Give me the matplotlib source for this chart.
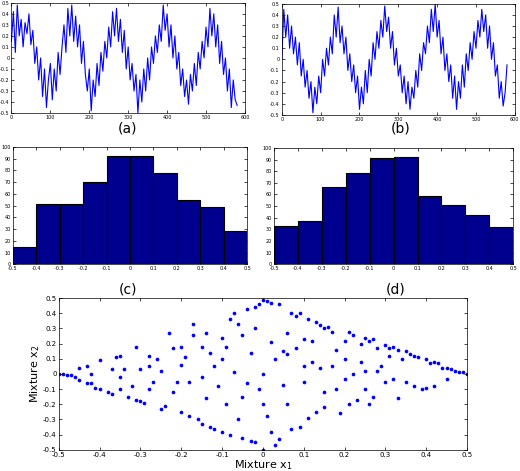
import numpy as np
import matplotlib
matplotlib.use("Agg")
import matplotlib.pyplot as plt

sig_a = [0.15,0.42,0.05,0.48,0.2,0.35,0.1,0.32,0.22,0.4,0.12,0.25,-0.05,
 0.1,-0.2,0.0,-0.35,-0.1,-0.45,-0.2,-0.05,-0.38,-0.1,-0.3,0.05,-0.15,
 0.1,0.3,0.05,0.45,0.2,0.48,0.15,0.38,0.1,0.3,-0.05,0.15,-0.15,
 -0.3,-0.1,-0.48,-0.2,-0.35,-0.05,-0.25,0.05,-0.12,0.15,0.0,0.28,0.1,
 0.42,0.2,0.45,0.15,0.35,0.05,0.25,-0.1,0.1,-0.2,-0.05,-0.3,-0.15,
 -0.5,-0.2,-0.4,-0.1,-0.3,0.0,-0.2,0.1,-0.05,0.2,0.05,0.3,0.15,
 0.48,0.25,0.4,0.1,0.3,0.0,0.2,-0.1,0.05,-0.25,-0.1,-0.35,-0.2,
 -0.42,-0.15,-0.3,-0.05,-0.25,0.05,-0.1,0.15,0.0,0.28,0.1,0.45,0.2,
 0.4,0.1,0.3,-0.05,0.15,-0.15,0.0,-0.3,-0.1,-0.45,-0.2,-0.38,-0.43]
sig_b = [0.0,0.45,0.2,0.4,0.1,0.3,0.05,0.2,-0.05,0.15,-0.15,0.0,-0.25,
 -0.1,-0.35,-0.2,-0.48,-0.25,-0.4,-0.15,-0.3,0.0,-0.15,0.1,-0.05,0.2,
 0.05,0.4,0.2,0.47,0.15,0.3,0.05,0.2,-0.1,0.05,-0.2,-0.05,-0.3,
 -0.15,-0.45,-0.25,-0.4,-0.1,-0.3,0.0,-0.15,0.15,0.0,0.25,0.1,0.35,
 0.2,0.48,0.25,0.38,0.1,0.25,-0.05,0.1,-0.15,-0.05,-0.3,-0.15,-0.4,
 -0.2,-0.45,-0.25,-0.35,-0.1,-0.25,0.05,-0.1,0.15,0.05,0.3,0.15,0.45,
 0.25,0.5,0.2,0.35,0.05,0.2,-0.1,0.05,-0.2,-0.05,-0.35,-0.15,-0.45,
 -0.2,-0.35,-0.05,-0.25,0.05,-0.1,0.15,0.0,0.25,0.1,0.35,0.2,0.45,
 0.25,0.4,0.1,0.3,0.0,0.15,-0.15,-0.05,-0.35,-0.2,-0.42,-0.3,-0.05]
sig_t = list(range(0, 581, 5))

bin_centers = [-0.45,-0.35,-0.25,-0.15,-0.05,0.05,0.15,0.25,0.35,0.45]
hist_c = [15,51,51,70,92,92,78,55,49,28]
hist_d = [33,37,66,78,91,92,59,51,42,32]

mix_x1 = [-0.5,-0.49,-0.48,-0.47,-0.46,-0.45,-0.45,-0.43,-0.43,-0.42,-0.42,-0.41,-0.40,-0.40,-0.38,-0.37,-0.37,-0.36,-0.35,-0.35,
 -0.34,-0.33,-0.32,-0.31,-0.31,-0.30,-0.29,-0.28,-0.28,-0.27,-0.26,-0.25,-0.24,-0.23,-0.22,-0.21,-0.2,-0.2,-0.19,-0.18,
 -0.17,-0.17,-0.16,-0.15,-0.15,-0.14,-0.14,-0.13,-0.13,-0.12,-0.12,-0.11,-0.1,-0.1,-0.09,-0.09,-0.08,-0.08,-0.07,-0.07,
 -0.06,-0.06,-0.05,-0.05,-0.04,-0.04,-0.03,-0.03,-0.02,-0.02,-0.01,-0.01,0.0,0.0,0.01,0.01,0.02,0.02,0.03,0.03,
 0.04,0.04,0.05,0.06,0.06,0.07,0.07,0.08,0.08,0.09,0.09,0.1,0.1,0.11,0.11,0.12,0.12,0.13,0.13,0.14,
 0.14,0.15,0.15,0.16,0.17,0.17,0.18,0.18,0.19,0.2,0.2,0.21,0.21,0.22,0.22,0.23,0.24,0.24,0.25,0.25,
 0.26,0.26,0.27,0.27,0.28,0.28,0.29,0.3,0.3,0.31,0.31,0.32,0.32,0.33,0.33,0.34,0.35,0.35,0.36,0.37,
 0.37,0.38,0.39,0.4,0.4,0.41,0.42,0.42,0.43,0.44,0.45,0.45,0.46,0.47,0.48,0.49,0.5,-0.3,-0.25,-0.22,
 -0.18,-0.15,-0.1,-0.05,0.0,0.05,0.1,0.15,0.2,0.25,-0.35,-0.28,-0.2,0.0,0.02,-0.02,0.06]
mix_x2 = [0.0,0.0,-0.01,-0.01,-0.02,-0.04,0.04,0.05,-0.06,-0.06,0.0,-0.09,0.09,-0.1,-0.12,-0.13,0.03,0.11,0.12,-0.1,
 0.03,-0.15,-0.08,0.18,-0.17,-0.18,-0.19,0.05,0.12,-0.05,0.1,-0.23,-0.21,0.27,0.17,-0.05,0.18,-0.25,0.11,-0.28,
 0.26,0.33,-0.3,0.18,-0.33,0.27,-0.16,0.14,-0.35,0.05,-0.36,-0.08,0.24,-0.38,0.18,-0.2,-0.4,0.36,0.4,0.01,
 0.33,-0.3,0.26,-0.42,0.43,-0.06,-0.44,0.14,0.44,-0.45,0.46,-0.1,0.49,-0.5,0.48,-0.28,0.47,0.21,-0.47,0.1,
 0.46,-0.43,-0.07,0.27,-0.2,0.4,-0.36,0.38,0.17,0.4,-0.35,0.23,-0.05,0.36,-0.29,0.22,0.08,0.34,-0.25,0.32,
 0.04,0.3,-0.22,0.31,0.05,0.28,0.16,-0.1,-0.26,0.22,-0.03,0.28,-0.2,0.26,0.0,-0.17,0.2,0.08,0.24,-0.1,
 0.22,-0.2,0.23,-0.15,0.17,0.02,0.05,0.19,-0.05,0.17,0.12,0.18,-0.03,0.16,-0.16,0.1,0.15,-0.05,0.13,0.12,
 -0.08,0.11,-0.1,0.1,-0.09,0.07,0.08,-0.08,0.07,0.04,0.04,-0.03,0.03,0.02,0.01,0.01,0.0,0.03,0.02,-0.12,
 -0.05,-0.02,0.1,-0.15,0.0,0.15,0.05,-0.12,0.1,0.02,-0.02,-0.1,0.06,-0.2,-0.38,0.3,0.13]

W, H = 520, 471
fig = plt.figure(figsize=(W/100, H/100), dpi=100)

def style(ax, fs):
    ax.tick_params(direction='in', top=True, right=True, labelsize=fs, length=2, width=0.5, pad=1.5)
    for s in ax.spines.values():
        s.set_linewidth(0.5)

ticks11 = np.round(np.arange(-0.5, 0.51, 0.1), 1)
def tl(v):
    return "0" if v == 0 else ("%g" % v)

for rect, sig, lab, lx in [([0.022, 0.760, 0.449, 0.234], sig_a, "(a)", 0.246),
                           ([0.542, 0.756, 0.448, 0.236], sig_b, "(b)", 0.77)]:
    ax = fig.add_axes(rect)
    ax.plot(sig_t, sig, color='blue', lw=0.8)
    ax.set_xlim(0, 600); ax.set_ylim(-0.5, 0.5)
    ax.set_xticks(range(0, 601, 100))
    ax.set_yticks(ticks11); ax.set_yticklabels([tl(v) for v in ticks11])
    style(ax, 3.5)
    fig.text(lx, 0.727, lab, ha='center', va='center', fontsize=10)

for rect, h, lab, lx in [([0.025, 0.439, 0.450, 0.249], hist_c, "(c)", 0.246),
                         ([0.527, 0.439, 0.460, 0.247], hist_d, "(d)", 0.76)]:
    ax = fig.add_axes(rect)
    ax.bar(bin_centers, h, width=0.1, color='#00008F', edgecolor='black', linewidth=0.8)
    ax.set_xlim(-0.5, 0.5); ax.set_ylim(0, 100)
    ax.set_xticks(ticks11); ax.set_xticklabels([tl(v) for v in ticks11])
    ax.set_yticks(range(0, 101, 10))
    style(ax, 3.5)
    fig.text(lx, 0.385, lab, ha='center', va='center', fontsize=10)

ax = fig.add_axes([0.113, 0.045, 0.785, 0.322])
ax.scatter(mix_x1, mix_x2, s=7, color='blue', linewidths=0)
ax.set_xlim(-0.5, 0.5); ax.set_ylim(-0.5, 0.5)
ax.set_xticks(ticks11); ax.set_xticklabels([tl(v) for v in ticks11])
ax.set_yticks(ticks11); ax.set_yticklabels([tl(v) for v in ticks11])
style(ax, 5)
ax.set_xlabel("Mixture x$_1$", fontsize=8, labelpad=0)
ax.set_ylabel("Mixture x$_2$", fontsize=8, labelpad=1)

fig.savefig("out.png", dpi=100)
